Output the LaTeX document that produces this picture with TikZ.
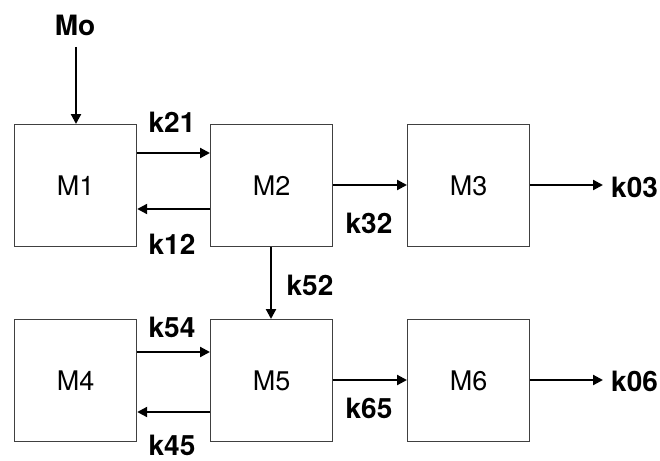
\documentclass[tikz,border=0pt]{standalone}
\usepackage{fontspec}
\setmainfont{TeX Gyre Heros}
\usetikzlibrary{arrows.meta}
\begin{document}
\begin{tikzpicture}[x=1pt,y=-1pt,
  box/.style={draw=black!75,line width=1.2pt,minimum width=122pt,minimum height=122pt,inner sep=0pt,anchor=north west,font=\fontsize{27}{31}\selectfont},
  lab/.style={font=\fontsize{28}{32}\selectfont\bfseries,inner sep=0pt},
  conn/.style={line width=2.2pt,-{Triangle[length=10pt,width=10pt]}}]
\useasboundingbox[fill=white] (0,0) rectangle (660,460);
\node[box] (m1) at (14,124) {M1};
\node[box] (m2) at (210,124) {M2};
\node[box] (m3) at (407,124) {M3};
\node[box] (m4) at (14,319) {M4};
\node[box] (m5) at (210,319) {M5};
\node[box] (m6) at (407,319) {M6};
\node[lab] (mo) at (75,25) {Mo};
\node[lab] (k21) at (172,122) {k21};
\node[lab] (k12) at (172,244) {k12};
\node[lab] (k32) at (369,223) {k32};
\node[lab,anchor=west] (k03) at (611,187) {k03};
\node[lab] (k52) at (310,285) {k52};
\node[lab] (k54) at (172,327) {k54};
\node[lab] (k45) at (172,445) {k45};
\node[lab] (k65) at (369,408) {k65};
\node[lab,anchor=west] (k06) at (611,381) {k06};
\coordinate (moS) at (76,47);
\coordinate (e03) at (603,185);
\coordinate (e06) at (603,380);
\draw[conn] (moS) -- (moS |- m1.north);
\draw[conn] (m1.east |- 0,153) -- (m2.west |- 0,153);
\draw[conn] (m2.west |- 0,209) -- (m1.east |- 0,209);
\draw[conn] (m2.east |- 0,185) -- (m3.west |- 0,185);
\draw[conn] (m3.east |- e03) -- (e03);
\draw[conn] (271,0 |- m2.south) -- (271,0 |- m5.north);
\draw[conn] (m4.east |- 0,352) -- (m5.west |- 0,352);
\draw[conn] (m5.west |- 0,412) -- (m4.east |- 0,412);
\draw[conn] (m5.east |- 0,380) -- (m6.west |- 0,380);
\draw[conn] (m6.east |- e06) -- (e06);
\end{tikzpicture}
\end{document}
